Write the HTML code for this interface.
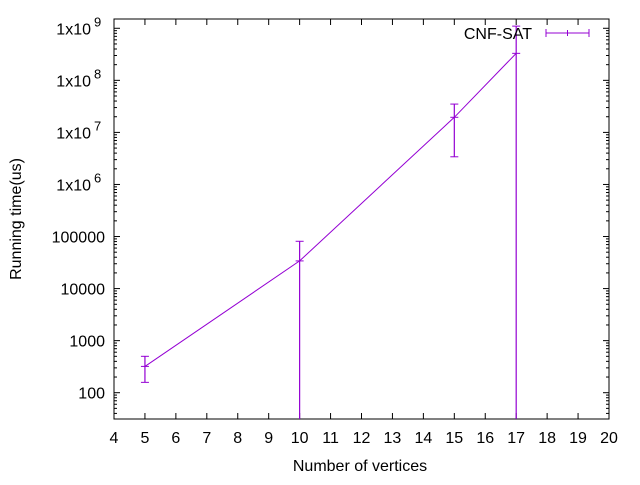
<!DOCTYPE html>
<html><head><meta charset="utf-8"><style>
body{margin:0;background:#fff;}
svg text{font-family:"Liberation Sans",Arial,sans-serif;fill:#000;}
</style></head><body>
<svg id="chart" width="640" height="480" xmlns="http://www.w3.org/2000/svg">
<g id="axes"></g>
<g id="series"></g>
<text transform="translate(21,219) rotate(-90)" text-anchor="middle" font-size="16">Running time(us)</text>
<text x="360" y="471" text-anchor="middle" font-size="16">Number of vertices</text>
<g>
<text x="532" y="39" text-anchor="end" font-size="16">CNF-SAT</text>
<line x1="546" y1="33" x2="589" y2="33" stroke="#9400d3" stroke-width="1"/>
<line x1="546" y1="29" x2="546" y2="37" stroke="#9400d3"/>
<line x1="589" y1="29" x2="589" y2="37" stroke="#9400d3"/>
<line x1="567.5" y1="30" x2="567.5" y2="36" stroke="#9400d3"/>
</g>
</svg>
<script>
const xValues=[5,10,15,17];
const yValues=[320,34000,19500000,330000000];
const yLow=[158,-50000,3400000,-300000000];
const yHigh=[500,81000,35000000,1100000000];
const xTicks=[4,5,6,7,8,9,10,11,12,13,14,15,16,17,18,19,20];
const yTickExps=[2,3,4,5,6,7,8,9];
const yTickLabels=["100","1000","10000","100000","1x10","1x10","1x10","1x10"];

const L=114,R=609,T=19,B=419;
const NS="http://www.w3.org/2000/svg";
function sx(v){return L+(v-4)/(20-4)*(R-L);}
function sy(v){if(v<=0)return B;const y=392.7-(Math.log10(v)-2)*52.06;return Math.max(T,Math.min(B,y));}
function mk(p,tag,attrs){const e=document.createElementNS(NS,tag);for(const k in attrs)e.setAttribute(k,attrs[k]);p.appendChild(e);return e;}
const ax=document.getElementById('axes');
const frame=mk(ax,'rect',{x:L,y:T,width:R-L,height:B-T,fill:'none',stroke:'#000','stroke-width':1});


xTicks.forEach(t=>{const x=sx(t);
 mk(ax,'line',{x1:x,y1:B,x2:x,y2:B-6,stroke:'#000'});
 mk(ax,'line',{x1:x,y1:T,x2:x,y2:T+6,stroke:'#000'});
 const tx=mk(ax,'text',{x:x,y:B+24,'text-anchor':'middle','font-size':16});tx.textContent=t;
 
 
});
yTickExps.forEach((e,i)=>{const y=sy(Math.pow(10,e));
 mk(ax,'line',{x1:L,y1:y,x2:L+6,y2:y,stroke:'#000'});
 mk(ax,'line',{x1:R,y1:y,x2:R-6,y2:y,stroke:'#000'});
 const tx=mk(ax,'text',{x:e>=6?91:105,y:y+6,'text-anchor':'end','font-size':16});tx.textContent=yTickLabels[i];
 
 
 if(e>=6){const s=mk(ax,'text',{x:94,y:y-2,'font-size':13});s.textContent=e;}
});
for(let e=1;e<=9;e++){for(let m=2;m<=9;m++){const v=m*Math.pow(10,e);const y=392.7-(Math.log10(v)-2)*52.06;
 if(y<T||y>B)continue;
 mk(ax,'line',{x1:L,y1:y,x2:L+3,y2:y,stroke:'#000'});
 mk(ax,'line',{x1:R,y1:y,x2:R-3,y2:y,stroke:'#000'});}}
const sg=document.getElementById('series');
const pts=xValues.map((x,i)=>sx(x)+','+sy(yValues[i])).join(' ');
const pl=mk(sg,'polyline',{points:pts,fill:'none',stroke:'#9400d3','stroke-width':1});


xValues.forEach((x,i)=>{const px=sx(x);const yt=sy(yHigh[i]),yb=sy(yLow[i]),yc=sy(yValues[i]);
 const g=mk(sg,'g',{});
 
 
 mk(g,'line',{x1:px,y1:yt,x2:px,y2:yb,stroke:'#9400d3','stroke-width':1.2});
 if(yHigh[i]>0&&yt>T)mk(g,'line',{x1:px-4,y1:yt,x2:px+4,y2:yt,stroke:'#9400d3'});
 if(yLow[i]>0)mk(g,'line',{x1:px-4,y1:yb,x2:px+4,y2:yb,stroke:'#9400d3'});
 mk(g,'line',{x1:px-4,y1:yc,x2:px+4,y2:yc,stroke:'#9400d3'});
});
</script>
</body></html>
